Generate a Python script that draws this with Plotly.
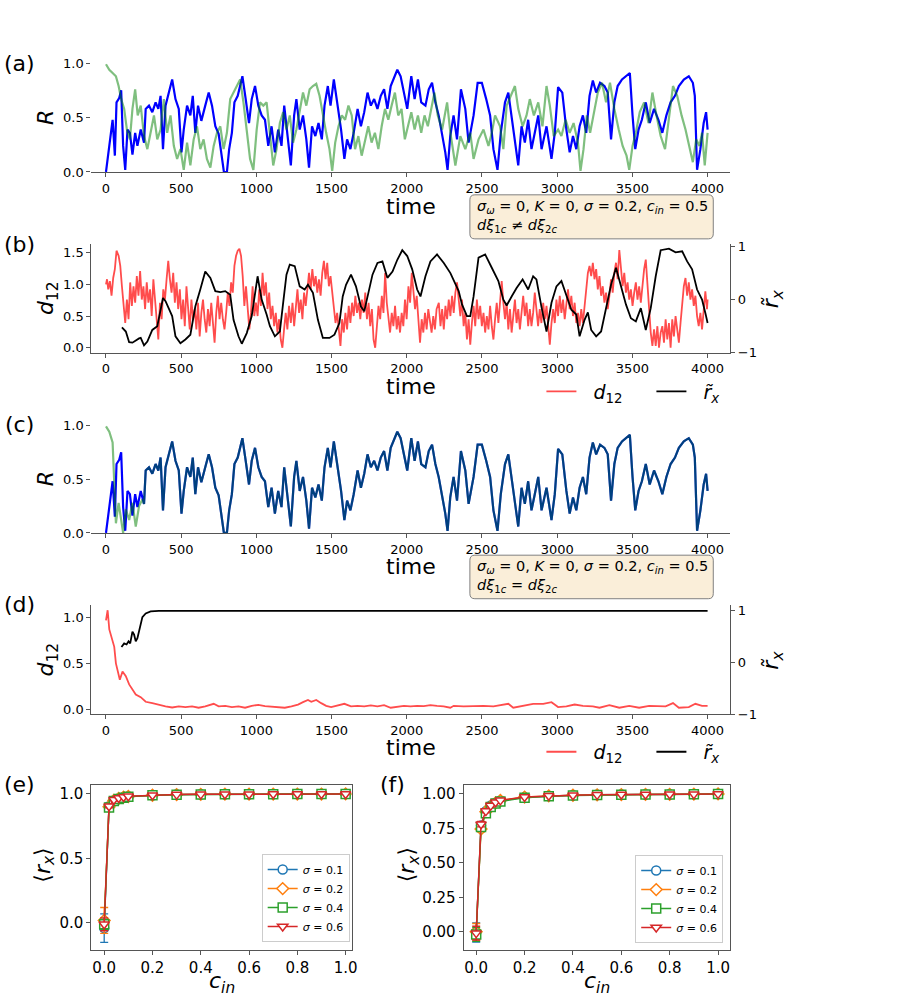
import plotly.graph_objects as go

W, H = 911, 1000
# the photographed page comes out slightly squeezed vertically; positions below are given
# in the reference picture's pixels and converted here
VS, VOFF = 0.984, 8.0
def px(x): return x / W
def py(y): return 1 - (y / VS - VOFF) / H

# ---------------- data ----------------
time_ticks = [0, 500, 1000, 1500, 2000, 2500, 3000, 3500, 4000]

# panel (a)/(c): R of population 1 (blue)
blue_t = [0,11,22,33,44,51,59,70,88,101,114,128,143,159,176,194,209,231,253,264,286,308,330,348,363,379,396,418,440,462,484,502,517,539,561,577,594,612,634,660,683,705,727,749,766,784,804,819,837,854,876,907,929,951,969,991,1013,1035,1057,1079,1101,1123,1145,1167,1185,1207,1229,1251,1266,1288,1310,1332,1350,1370,1392,1413,1435,1453,1475,1493,1515,1537,1563,1585,1603,1625,1647,1673,1695,1717,1739,1761,1783,1805,1827,1849,1871,1893,1915,1937,1959,1981,2003,2030,2052,2074,2096,2124,2146,2168,2190,2212,2234,2256,2271,2289,2311,2334,2360,2389,2411,2444,2471,2499,2528,2554,2576,2603,2625,2653,2675,2697,2719,2741,2763,2785,2807,2829,2851,2874,2896,2929,2962,2984,3006,3034,3061,3083,3105,3127,3149,3171,3193,3215,3237,3259,3285,3314,3336,3358,3380,3402,3431,3457,3483,3501,3519,3541,3563,3589,3615,3644,3673,3699,3726,3754,3783,3809,3842,3875,3902,3915,3930,3952,3974,3990,4000]
blue_R = [0,0.15,0.24,0.36,0.48,0.33,0.15,0.64,0.68,0.75,0.24,0.02,0.39,0.36,0.16,0.36,0.24,0.39,0.27,0.58,0.61,0.55,0.64,0.58,0.70,0.21,0.61,0.73,0.85,0.67,0.58,0.18,0.39,0.61,0.52,0.70,0.36,0.61,0.47,0.61,0.73,0.61,0.42,0.35,0.18,0.0,0.0,0.21,0.36,0.64,0.70,0.88,0.67,0.45,0.67,0.79,0.61,0.52,0.48,0.24,0.42,0.18,0.39,0.24,0.61,0.36,0.06,0.52,0.67,0.39,0.52,0.30,0.04,0.42,0.33,0.45,0.30,0.61,0.79,0.61,0.85,0.64,0.39,0.12,0.30,0.21,0.36,0.58,0.42,0.55,0.73,0.61,0.67,0.58,0.70,0.76,0.58,0.79,0.87,0.94,0.88,0.73,0.58,0.88,0.67,0.85,0.64,0.61,0.76,0.82,0.64,0.52,0.36,0.18,0.02,0.33,0.52,0.30,0.76,0.58,0.27,0.52,0.82,0.82,0.67,0.52,0.21,0.02,0.36,0.64,0.73,0.52,0.27,0.06,0.42,0.27,0.48,0.21,0.36,0.52,0.21,0.42,0.12,0.36,0.78,0.73,0.39,0.18,0.33,0.21,0.42,0.52,0.36,0.70,0.84,0.73,0.82,0.79,0.73,0.30,0.64,0.79,0.85,0.88,0.91,0.52,0.21,0.39,0.48,0.64,0.45,0.58,0.48,0.36,0.52,0.64,0.70,0.79,0.85,0.88,0.82,0.70,0.02,0.21,0.45,0.55,0.39]

# panel (a): R of population 2 (green)
green_t = [0,22,44,66,84,101,121,139,159,176,194,211,231,253,275,297,319,341,363,385,407,429,451,473,495,517,539,561,583,605,627,649,671,694,716,738,760,782,804,826,848,870,892,914,936,958,980,1002,1024,1046,1068,1090,1112,1134,1156,1178,1200,1222,1244,1266,1288,1310,1332,1354,1376,1398,1420,1442,1464,1486,1504,1524,1546,1568,1590,1612,1634,1656,1678,1700,1722,1744,1766,1788,1811,1833,1855,1877,1899,1921,1943,1965,1987,2009,2030,2052,2074,2096,2118,2140,2162,2184,2206,2235,2268,2290,2323,2356,2389,2422,2444,2477,2510,2543,2565,2587,2620,2642,2664,2691,2719,2741,2770,2796,2818,2845,2874,2902,2929,2951,2977,3006,3028,3056,3083,3109,3138,3155,3175,3197,3219,3241,3270,3298,3325,3351,3380,3409,3435,3461,3479,3501,3523,3549,3578,3607,3633,3660,3688,3717,3743,3770,3798,3827,3853,3880,3902,3924,3946,3963,3981,4000]
green_R = [0.99,0.94,0.91,0.88,0.79,0.67,0.58,0.39,0.30,0.58,0.76,0.52,0.61,0.33,0.21,0.36,0.52,0.30,0.39,0.67,0.36,0.52,0.24,0.12,0.21,0.02,0.27,0.06,0.30,0.42,0.21,0.30,0.12,0.04,0.24,0.36,0.42,0.21,0.36,0.67,0.73,0.79,0.85,0.64,0.36,0.12,0.02,0.39,0.64,0.61,0.64,0.36,0.06,0.21,0.45,0.55,0.39,0.52,0.27,0.39,0.58,0.73,0.61,0.76,0.79,0.81,0.70,0.52,0.36,0.21,0.01,0.27,0.42,0.52,0.48,0.61,0.52,0.21,0.33,0.15,0.30,0.42,0.27,0.36,0.21,0.42,0.58,0.48,0.61,0.73,0.52,0.58,0.30,0.42,0.55,0.39,0.52,0.36,0.52,0.42,0.58,0.73,0.52,0.39,0.64,0.36,0.06,0.33,0.21,0.36,0.12,0.30,0.39,0.24,0.36,0.52,0.42,0.21,0.61,0.70,0.79,0.58,0.42,0.52,0.67,0.52,0.64,0.42,0.79,0.61,0.33,0.39,0.33,0.48,0.36,0.45,0.27,0.01,0.21,0.52,0.36,0.52,0.73,0.82,0.64,0.82,0.58,0.39,0.24,0.15,0.02,0.24,0.36,0.55,0.64,0.45,0.73,0.52,0.33,0.21,0.52,0.79,0.70,0.52,0.39,0.21,0.09,0.30,0.24,0.36,0.06,0.36]

# panel (c): green before it locks onto the blue one
c_green_t_early = [0,22,44,55,66,84,99,114,132,154,176,198,220,242]
c_green_R_early = [0.99,0.94,0.84,0.53,0.09,0.28,0.12,0.0,0.22,0.12,0.28,0.06,0.25,0.31]
c_lock_time = 250

# panel (b): d12 (red) and windowed correlation r~x (black)
b_d12_t = [0,7,15,26,37,48,59,70,84,95,106,117,128,139,150,161,172,183,194,205,216,227,238,249,260,271,282,293,304,315,326,337,348,359,370,381,392,403,414,425,436,447,458,469,480,491,502,513,524,535,546,557,568,579,590,601,612,623,634,645,656,667,678,689,700,711,722,733,744,755,766,777,788,799,810,821,832,843,854,865,876,887,898,909,920,931,942,953,964,975,986,997,1008,1019,1030,1041,1052,1063,1074,1085,1096,1107,1118,1129,1140,1151,1162,1173,1184,1195,1206,1217,1229,1240,1251,1262,1273,1284,1295,1306,1317,1328,1339,1350,1361,1372,1383,1394,1405,1416,1427,1438,1449,1460,1471,1482,1493,1504,1515,1526,1537,1548,1559,1570,1581,1592,1603,1614,1625,1636,1647,1658,1669,1680,1691,1702,1713,1724,1735,1746,1757,1768,1779,1790,1801,1812,1823,1834,1845,1856,1867,1878,1889,1900,1911,1922,1933,1944,1955,1966,1977,1988,1999,2011,2022,2033,2044,2055,2066,2077,2088,2099,2110,2121,2132,2143,2154,2165,2176,2187,2198,2213,2224,2235,2246,2257,2268,2279,2290,2301,2312,2323,2334,2345,2356,2367,2378,2389,2400,2411,2422,2433,2444,2455,2466,2477,2488,2499,2510,2521,2532,2543,2554,2565,2576,2587,2598,2609,2620,2631,2642,2653,2664,2675,2686,2697,2708,2719,2730,2741,2752,2763,2774,2785,2796,2807,2818,2829,2840,2851,2862,2873,2884,2895,2907,2918,2929,2940,2951,2962,2973,2984,2995,3006,3017,3028,3039,3050,3061,3072,3083,3094,3105,3116,3127,3138,3149,3160,3171,3182,3193,3204,3215,3226,3237,3248,3259,3270,3281,3292,3303,3314,3325,3336,3347,3358,3369,3380,3391,3402,3413,3424,3435,3446,3457,3468,3479,3490,3501,3512,3523,3534,3545,3556,3567,3578,3589,3600,3611,3622,3633,3644,3655,3666,3677,3688,3699,3710,3721,3732,3743,3754,3765,3776,3787,3798,3809,3820,3831,3842,3853,3864,3875,3886,3897,3908,3919,3930,3941,3952,3963,3974,3985,3996,4000]
b_d12 = [1.0,1.08,0.92,1.05,0.82,1.1,1.24,1.53,1.45,1.29,0.97,0.66,0.39,0.76,0.45,1.03,0.66,0.97,0.71,1.13,0.82,1.21,0.76,0.97,0.61,1.03,0.71,0.92,0.5,1.08,0.71,0.45,0.13,0.71,0.45,0.92,0.76,1.08,1.37,1.08,0.87,1.18,0.71,1.03,0.61,0.92,0.45,0.76,0.34,0.97,0.55,0.29,0.76,0.45,0.61,0.29,0.71,0.18,0.55,0.76,0.45,0.24,0.61,0.34,0.71,0.45,0.08,0.55,0.82,0.45,0.71,0.45,0.29,0.55,0.87,0.66,1.03,0.87,1.29,1.45,1.53,1.56,1.45,1.13,0.66,0.97,0.55,0.29,0.55,0.97,0.5,0.71,0.5,0.92,0.66,1.18,0.82,1.03,0.61,0.87,0.45,0.66,0.34,0.55,0.24,0.45,0.13,0.0,0.29,0.55,0.29,0.66,0.39,0.71,0.34,0.61,0.92,0.55,0.76,0.45,0.87,0.66,0.97,1.18,0.92,1.24,0.97,1.13,0.87,1.08,0.82,1.18,1.37,1.08,1.34,0.97,1.13,0.87,0.66,0.39,0.55,0.29,0.03,0.45,0.24,0.55,0.29,0.66,0.39,0.71,0.5,0.82,0.55,0.71,0.45,0.76,0.55,0.87,0.45,0.71,0.34,0.61,0.13,0.0,0.39,0.66,0.45,0.82,0.55,1.18,0.71,0.45,0.24,0.55,0.34,0.66,0.29,0.5,0.24,0.55,0.34,0.76,0.45,0.97,0.71,1.18,0.92,0.61,0.82,0.45,0.08,0.45,0.24,0.55,0.29,0.61,0.39,0.24,0.5,0.29,0.61,0.71,0.34,0.61,0.29,0.66,0.45,0.76,0.5,0.82,0.55,0.87,1.03,0.71,0.5,0.76,0.34,0.55,0.13,0.45,0.05,0.39,0.66,0.34,0.76,0.45,0.66,0.34,0.55,0.24,0.5,0.29,0.66,0.34,0.13,0.45,0.71,0.39,0.66,1.05,0.71,0.45,0.71,0.29,0.61,0.24,0.5,0.76,0.39,0.61,0.29,0.55,0.82,0.5,0.71,0.34,0.61,0.34,0.55,0.87,0.61,0.34,0.61,0.39,0.71,0.45,0.66,0.34,0.05,0.39,0.61,0.39,0.76,0.5,0.82,0.55,0.76,0.45,0.71,0.92,0.61,0.82,0.5,0.71,0.39,0.55,0.34,0.61,0.39,0.66,0.82,1.18,1.29,1.13,1.34,1.08,1.24,0.92,1.13,0.82,0.97,0.71,0.87,0.61,0.82,1.08,0.87,1.18,1.34,1.08,1.54,1.24,0.97,1.18,0.87,1.03,0.76,0.92,0.66,0.87,1.03,0.76,0.97,0.71,1.03,1.24,1.39,0.97,0.55,0.24,0.03,0.29,0.03,0.34,0.0,0.24,0.34,0.08,0.45,0.13,0.39,0.0,0.45,0.18,0.5,0.24,0.08,0.39,0.66,0.97,1.1,0.82,1.03,0.76,0.92,0.66,0.82,0.5,0.34,0.55,0.29,0.61,0.89,0.61,0.76]
b_rx_t = [106,132,154,176,220,231,253,275,308,341,379,396,440,462,495,528,561,594,627,660,694,727,760,793,826,848,881,903,936,969,1008,1035,1068,1090,1123,1156,1178,1200,1222,1255,1288,1321,1343,1376,1409,1442,1486,1519,1552,1574,1596,1629,1662,1695,1717,1739,1772,1805,1838,1871,1905,1937,1970,2003,2036,2069,2091,2124,2157,2201,2246,2290,2323,2345,2367,2400,2422,2444,2477,2521,2565,2609,2642,2664,2697,2730,2770,2807,2840,2862,2895,2929,2962,2995,3028,3061,3094,3127,3149,3182,3204,3226,3259,3292,3325,3358,3391,3424,3457,3490,3523,3556,3589,3622,3655,3688,3743,3787,3831,3864,3897,3930,3963,3985,4000]
b_rx = [-0.52,-0.60,-0.80,-0.81,-0.73,-0.72,-0.86,-0.79,-0.57,-0.50,0.03,-0.03,-0.31,-0.69,-0.82,-0.75,-0.66,-0.13,0.19,0.53,0.41,0.16,0.14,0.16,0.09,-0.38,-0.69,-0.83,-0.63,-0.31,0.44,0.0,-0.28,-0.50,-0.69,-0.60,-0.06,0.47,0.66,0.63,0.25,0.19,0.28,0.13,-0.38,-0.72,-0.72,-0.66,-0.44,0.06,0.28,0.47,0.25,-0.13,-0.22,0.06,0.47,0.69,0.72,0.41,0.53,0.75,0.93,0.82,0.57,0.19,0.06,0.44,0.72,0.85,0.69,0.50,0.31,0.16,-0.09,-0.31,-0.31,0.06,0.79,0.85,0.60,0.35,0.0,-0.11,0.06,0.22,0.38,0.19,0.44,0.38,-0.13,-0.60,-0.06,0.25,0.35,0.06,-0.19,-0.28,-0.69,-0.38,-0.24,-0.57,-0.69,-0.60,-0.19,0.28,0.60,0.28,-0.09,-0.35,-0.41,-0.16,-0.57,-0.16,0.44,0.93,0.96,0.89,0.91,0.72,0.57,0.19,0.0,-0.25,-0.44]

# panel (d)
d_d12_t = [0,11,22,40,55,66,77,92,110,132,154,176,198,231,264,308,352,396,440,484,528,572,616,660,716,749,793,837,881,925,969,1013,1057,1101,1145,1189,1233,1277,1310,1343,1365,1398,1431,1464,1497,1541,1585,1629,1673,1717,1761,1805,1849,1893,1937,1981,2025,2069,2113,2157,2201,2245,2289,2312,2378,2444,2510,2576,2642,2675,2708,2774,2840,2907,2962,3006,3061,3116,3171,3237,3281,3347,3413,3479,3545,3611,3677,3721,3770,3809,3875,3919,3963,4000]
d_d12 = [0.97,1.08,0.87,0.76,0.68,0.50,0.43,0.32,0.41,0.36,0.27,0.21,0.16,0.13,0.08,0.065,0.044,0.03,0.018,0.03,0.022,0.03,0.015,0.03,0.058,0.03,0.036,0.022,0.03,0.015,0.036,0.047,0.033,0.025,0.022,0.015,0.03,0.05,0.076,0.10,0.08,0.10,0.065,0.036,0.022,0.036,0.058,0.03,0.036,0.03,0.04,0.03,0.044,0.015,0.022,0.036,0.03,0.036,0.033,0.044,0.036,0.03,0.015,0.036,0.03,0.036,0.036,0.03,0.044,0.058,0.015,0.036,0.058,0.058,0.076,0.022,0.03,0.05,0.036,0.03,0.015,0.044,0.015,0.036,0.015,0.036,0.03,0.03,0.065,0.015,0.022,0.058,0.036,0.036]
d_rx_t = [103,121,137,150,161,176,187,198,209,225,242,264,297,352,500,1000,1500,2000,2500,3000,3500,4000]
d_rx = [0.30,0.37,0.35,0.41,0.37,0.60,0.54,0.41,0.47,0.70,0.88,0.95,0.99,1.0,1.0,1.0,0.995,1.0,1.0,0.998,1.0,1.0]

# panels (e) and (f): <r_x> versus c_in
c_in = [0, 0.02, 0.04, 0.06, 0.08, 0.1, 0.2, 0.3, 0.4, 0.5, 0.6, 0.7, 0.8, 0.9, 1.0]
sigmas = ["0.1", "0.2", "0.4", "0.6"]
e_rx = {
    "0.1": [-0.04, 0.905, 0.95, 0.965, 0.975, 0.98, 0.99, 0.995, 0.997, 0.998, 0.998, 0.999, 0.999, 0.999, 1.0],
    "0.2": [0.02, 0.90, 0.95, 0.965, 0.975, 0.98, 0.99, 0.995, 0.997, 0.998, 0.998, 0.999, 0.999, 0.999, 1.0],
    "0.4": [-0.01, 0.895, 0.945, 0.96, 0.97, 0.978, 0.99, 0.994, 0.996, 0.997, 0.998, 0.998, 0.999, 0.999, 1.0],
    "0.6": [-0.01, 0.905, 0.955, 0.968, 0.976, 0.982, 0.99, 0.995, 0.997, 0.998, 0.998, 0.999, 0.999, 0.999, 1.0],
}
e_err = {
    "0.1": [0.11, 0.012, 0.008, 0.006, 0.005, 0.004, 0.003, 0.002, 0.002, 0.002, 0.002, 0.001, 0.001, 0.001, 0.001],
    "0.2": [0.10, 0.015, 0.010, 0.008, 0.006, 0.005, 0.004, 0.003, 0.002, 0.002, 0.002, 0.002, 0.001, 0.001, 0.001],
    "0.4": [0.04, 0.012, 0.009, 0.007, 0.006, 0.005, 0.004, 0.003, 0.002, 0.002, 0.002, 0.002, 0.001, 0.001, 0.001],
    "0.6": [0.05, 0.012, 0.008, 0.006, 0.005, 0.004, 0.003, 0.002, 0.002, 0.002, 0.002, 0.001, 0.001, 0.001, 0.001],
}
f_rx = {
    "0.1": [-0.005, 0.77, 0.875, 0.915, 0.935, 0.95, 0.975, 0.985, 0.99, 0.993, 0.995, 0.996, 0.997, 0.998, 1.0],
    "0.2": [0.0, 0.745, 0.87, 0.91, 0.935, 0.952, 0.977, 0.986, 0.99, 0.993, 0.995, 0.996, 0.997, 0.998, 1.0],
    "0.4": [-0.02, 0.76, 0.86, 0.905, 0.93, 0.945, 0.972, 0.983, 0.988, 0.992, 0.994, 0.995, 0.996, 0.997, 0.999],
    "0.6": [-0.01, 0.78, 0.875, 0.915, 0.94, 0.953, 0.978, 0.986, 0.99, 0.993, 0.995, 0.996, 0.997, 0.998, 1.0],
}
f_err = {
    "0.1": [0.07, 0.02, 0.012, 0.01, 0.008, 0.007, 0.005, 0.004, 0.003, 0.003, 0.002, 0.002, 0.002, 0.002, 0.001],
    "0.2": [0.06, 0.02, 0.012, 0.01, 0.008, 0.007, 0.005, 0.004, 0.003, 0.003, 0.002, 0.002, 0.002, 0.002, 0.001],
    "0.4": [0.05, 0.02, 0.012, 0.01, 0.008, 0.007, 0.005, 0.004, 0.003, 0.003, 0.002, 0.002, 0.002, 0.002, 0.001],
    "0.6": [0.05, 0.02, 0.012, 0.01, 0.008, 0.007, 0.005, 0.004, 0.003, 0.003, 0.002, 0.002, 0.002, 0.002, 0.001],
}
sigma_colors = {"0.1": "#1f77b4", "0.2": "#ff7f0e", "0.4": "#2ca02c", "0.6": "#d62728"}
sigma_symbols = {"0.1": "circle", "0.2": "diamond", "0.4": "square", "0.6": "triangle-down"}

# ---------------- styles ----------------
FONT = "DejaVu Sans"
BLUE = "#0000ff"
GREEN = "rgba(0,128,0,0.5)"
RED = "rgba(255,0,0,0.7)"
SPINE = "#555555"

fig = go.Figure()

# (a)
fig.add_trace(go.Scatter(x=blue_t, y=blue_R, mode="lines", line=dict(color=BLUE, width=2.2),
                         xaxis="x", yaxis="y", showlegend=False))
fig.add_trace(go.Scatter(x=green_t, y=green_R, mode="lines", line=dict(color=GREEN, width=2.2),
                         xaxis="x", yaxis="y", showlegend=False))
# (b)
D12_NAME = "<i>d</i><sub>12</sub>"
RX_NAME = "<i>r\u0303</i><sub><i>x</i></sub>"
fig.add_trace(go.Scatter(x=b_d12_t, y=b_d12, mode="lines", line=dict(color=RED, width=1.8),
                         xaxis="x2", yaxis="y2", name="\u00a0\u00a0" + D12_NAME, legend="legend"))
fig.add_trace(go.Scatter(x=b_rx_t, y=b_rx, mode="lines", line=dict(color="black", width=1.8),
                         xaxis="x2", yaxis="y3", name="\u00a0\u00a0" + RX_NAME, legend="legend"))
# (c)
c_green_t = c_green_t_early + [t for t in blue_t if t >= c_lock_time]
c_green_R = c_green_R_early + [r for t, r in zip(blue_t, blue_R) if t >= c_lock_time]
fig.add_trace(go.Scatter(x=blue_t, y=blue_R, mode="lines", line=dict(color=BLUE, width=2.2),
                         xaxis="x3", yaxis="y4", showlegend=False))
fig.add_trace(go.Scatter(x=c_green_t, y=c_green_R, mode="lines", line=dict(color=GREEN, width=2.2),
                         xaxis="x3", yaxis="y4", showlegend=False))
# (d)
fig.add_trace(go.Scatter(x=d_d12_t, y=d_d12, mode="lines", line=dict(color=RED, width=1.8),
                         xaxis="x4", yaxis="y5", name="\u00a0\u00a0" + D12_NAME, legend="legend2"))
fig.add_trace(go.Scatter(x=d_rx_t, y=d_rx, mode="lines", line=dict(color="black", width=1.8),
                         xaxis="x4", yaxis="y6", name="\u00a0\u00a0" + RX_NAME, legend="legend2"))
# (e), (f)
for data, err, xa, ya, lg in [(e_rx, e_err, "x5", "y7", "legend3"), (f_rx, f_err, "x6", "y8", "legend4")]:
    for s in sigmas:
        col = sigma_colors[s]
        fig.add_trace(go.Scatter(
            x=c_in, y=data[s], mode="lines+markers", name="<i>σ</i> = " + s,
            line=dict(color=col, width=1.5),
            marker=dict(symbol=sigma_symbols[s], size=9, color="white", line=dict(color=col, width=1.5)),
            error_y=dict(type="data", array=err[s], color=col, thickness=1.3, width=4),
            xaxis=xa, yaxis=ya, legend=lg))

def xax(domain, anchor, rng, tickvals, ticktext=None, mirror=False, fs=13):
    d = dict(domain=domain, anchor=anchor, range=rng, tickvals=tickvals, showgrid=False, zeroline=False,
             showline=True, linecolor=SPINE, linewidth=1, ticks="outside", ticklen=4, tickwidth=1,
             tickcolor=SPINE, tickfont=dict(family=FONT, size=fs, color="black"), mirror=mirror)
    if ticktext is not None:
        d["ticktext"] = ticktext
    return d
def yax(domain, anchor, rng, tickvals, ticktext=None, showline=True, mirror=False, fs=13, **kw):
    d = dict(domain=domain, anchor=anchor, range=rng, tickvals=tickvals, showgrid=False, zeroline=False,
             showline=showline, linecolor=SPINE, linewidth=1, ticks="outside", ticklen=4, tickwidth=1,
             tickcolor=SPINE, tickfont=dict(family=FONT, size=fs, color="black"), mirror=mirror)
    if ticktext is not None:
        d["ticktext"] = ticktext
    d.update(kw)
    return d

XL, XR = px(92), px(735)
TR = [-97, 4150]
fig.update_layout(
    width=W, height=H, margin=dict(l=0, r=0, t=0, b=0),
    paper_bgcolor="white", plot_bgcolor="rgba(0,0,0,0)",
    font=dict(family=FONT, color="black"),
    xaxis=xax([XL, XR], "y", TR, time_ticks),
    yaxis=yax([py(172.7), py(64)], "x", [0, 1], [0, 0.5, 1], ["0.0", "0.5", "1.0"], showline=False),
    xaxis2=xax([XL, XR], "y2", TR, time_ticks),
    yaxis2=yax([py(353.3), py(245)], "x2", [-0.079, 1.63], [0, 0.5, 1, 1.5], ["0.0", "0.5", "1.0", "1.5"]),
    yaxis3=yax([py(353.3), py(245)], "x2", [-1.0, 1.04], [-1, 0, 1], overlaying="y2", side="right"),
    xaxis3=xax([XL, XR], "y4", TR, time_ticks),
    yaxis4=yax([py(533.3), py(425.7)], "x3", [0, 1], [0, 0.5, 1], ["0.0", "0.5", "1.0"], showline=False),
    xaxis4=xax([XL, XR], "y5", TR, time_ticks),
    yaxis5=yax([py(714.3), py(605)], "x4", [-0.055, 1.14], [0, 0.5, 1], ["0.0", "0.5", "1.0"]),
    yaxis6=yax([py(714.3), py(605)], "x4", [-1.0, 1.12], [-1, 0, 1], overlaying="y5", side="right"),
    xaxis5=xax([px(92), px(354)], "y7", [-0.053, 1.025], [0, 0.2, 0.4, 0.6, 0.8, 1.0],
               ["0.0", "0.2", "0.4", "0.6", "0.8", "1.0"], mirror=True, fs=15),
    yaxis7=yax([py(950), py(785)], "x5", [-0.21, 1.07], [0, 0.5, 1], ["0.0", "0.5", "1.0"], mirror=True, fs=15),
    xaxis6=xax([px(466.7), px(735)], "y8", [-0.052, 1.05], [0, 0.2, 0.4, 0.6, 0.8, 1.0],
               ["0.0", "0.2", "0.4", "0.6", "0.8", "1.0"], mirror=True, fs=15),
    yaxis8=yax([py(950), py(785)], "x6", [-0.133, 1.065], [0, 0.25, 0.5, 0.75, 1.0],
               ["0.00", "0.25", "0.50", "0.75", "1.00"], mirror=True, fs=15),
    legend=dict(x=px(545), y=py(392), xanchor="left", yanchor="middle", orientation="h",
                font=dict(family=FONT, size=19), bgcolor="rgba(0,0,0,0)", itemwidth=30,
                entrywidth=65, entrywidthmode="pixels"),
    legend2=dict(x=px(545), y=py(752), xanchor="left", yanchor="middle", orientation="h",
                 font=dict(family=FONT, size=19), bgcolor="rgba(0,0,0,0)", itemwidth=30,
                 entrywidth=65, entrywidthmode="pixels"),
    legend3=dict(x=px(352), y=py(942), xanchor="right", yanchor="bottom",
                 font=dict(family=FONT, size=11), bgcolor="white", bordercolor="#cccccc", borderwidth=1,
                 itemwidth=30, tracegroupgap=0),
    legend4=dict(x=px(728), y=py(943), xanchor="right", yanchor="bottom",
                 font=dict(family=FONT, size=11), bgcolor="white", bordercolor="#cccccc", borderwidth=1,
                 itemwidth=30, tracegroupgap=0),
)

# rounded info boxes
def rounded_rect(x0, y0, x1, y1, r):
    P = lambda x, y: f"{px(x):.5f},{py(y):.5f}"
    return (f"M {P(x0 + r, y0)} L {P(x1 - r, y0)} Q {P(x1, y0)} {P(x1, y0 + r)} "
            f"L {P(x1, y1 - r)} Q {P(x1, y1)} {P(x1 - r, y1)} L {P(x0 + r, y1)} "
            f"Q {P(x0, y1)} {P(x0, y1 - r)} L {P(x0, y0 + r)} Q {P(x0, y0)} {P(x0 + r, y0)} Z")

box_line1 = "<i>σ</i><sub><i>ω</i></sub> = 0, <i>K</i> = 0, <i>σ</i> = 0.2, <i>c</i><sub><i>in</i></sub> = 0.5"
box_text_b = box_line1 + "<br><i>dξ</i><sub>1<i>c</i></sub> ≠ <i>dξ</i><sub>2<i>c</i></sub>"
box_text_d = box_line1 + "<br><i>dξ</i><sub>1<i>c</i></sub> = <i>dξ</i><sub>2<i>c</i></sub>"
for (y0, y1, txt) in [(195.5, 239.5, box_text_b), (555.5, 599, box_text_d)]:
    fig.add_shape(type="path", path=rounded_rect(473, y0, 718, y1, 5), xref="paper", yref="paper",
                  fillcolor="#faeed9", line=dict(color="#808080", width=1), layer="above")
    fig.add_annotation(x=px(478), y=py((y0 + y1) / 2), xref="paper", yref="paper", xanchor="left",
                       yanchor="middle", align="left", showarrow=False, text=txt,
                       font=dict(family=FONT, size=14.5, color="black"))

def ann(x, y, text, size=22, angle=0):
    fig.add_annotation(x=px(x), y=py(y), xref="paper", yref="paper", text=text, showarrow=False,
                       xanchor="center", yanchor="middle", textangle=angle,
                       font=dict(family=FONT, size=size, color="black"))

# panel labels
for lab, x, y in [("(a)", 20, 64), ("(b)", 20, 245), ("(c)", 20, 425), ("(d)", 20, 605),
                  ("(e)", 20, 785), ("(f)", 395, 785)]:
    ann(x, y, lab)
# x titles
for y in [207, 387, 567, 748]:
    ann(413.5, y, "time")
ann(223, 982, "<i>c</i><sub><i>in</i></sub>")
ann(601, 982, "<i>c</i><sub><i>in</i></sub>")
# y titles
ann(46, 118, "<i>R</i>", angle=-90)
ann(46, 479, "<i>R</i>", angle=-90)
ann(48, 299, D12_NAME, angle=-90)
ann(48, 660, D12_NAME, angle=-90)
ann(778, 299, RX_NAME, angle=-90)
ann(778, 660, RX_NAME, angle=-90)
ann(45, 865, "⟨<i>r</i><sub><i>x</i></sub>⟩", angle=-90)
ann(412, 865, "⟨<i>r</i><sub><i>x</i></sub>⟩", angle=-90)

fig.write_html("out.html")
